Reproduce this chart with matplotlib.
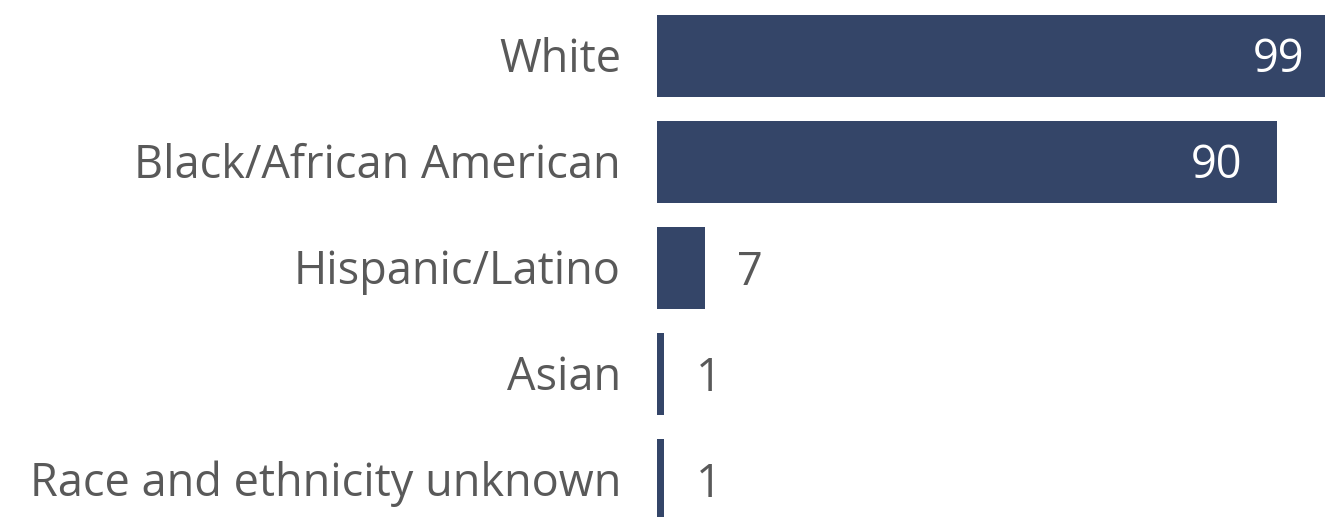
import matplotlib.pyplot as plt

# --- data ---
categories = ["White", "Black/African American", "Hispanic/Latino", "Asian",
              "Race and ethnicity unknown"]
counts = [99, 90, 7, 1, 1]

BAR = "#344568"
GREY = "#595959"
FS = 32.5
plt.rcParams['font.family'] = ['Open Sans', 'DejaVu Sans']

fig = plt.figure(figsize=(13.25, 5.17), dpi=100)
ax = fig.add_axes([657 / 1325, 0, 668 / 1325, 1])

ypos = list(range(len(categories)))
ax.barh(ypos, counts, height=0.77, color=BAR)
ax.set_xlim(0, 668 / 6.89)
ax.set_ylim(4.35, -0.528)

for y, v, name in zip(ypos, counts, categories):
    ax.annotate(name, xy=(0, y), xytext=(-26, -3), textcoords="offset points",
                ha="right", va="center", fontsize=FS, color=GREY,
                annotation_clip=False)
    if v > 50:
        ax.annotate(str(v), xy=(v, y), xytext=(-25, -3), textcoords="offset points",
                    ha="right", va="center", fontsize=FS, color="white",
                    annotation_clip=False)
    else:
        ax.annotate(str(v), xy=(v, y), xytext=(23, -4), textcoords="offset points",
                    ha="left", va="center", fontsize=FS, color=GREY,
                    annotation_clip=False)

ax.axis("off")
fig.savefig("out.png", dpi=100)
